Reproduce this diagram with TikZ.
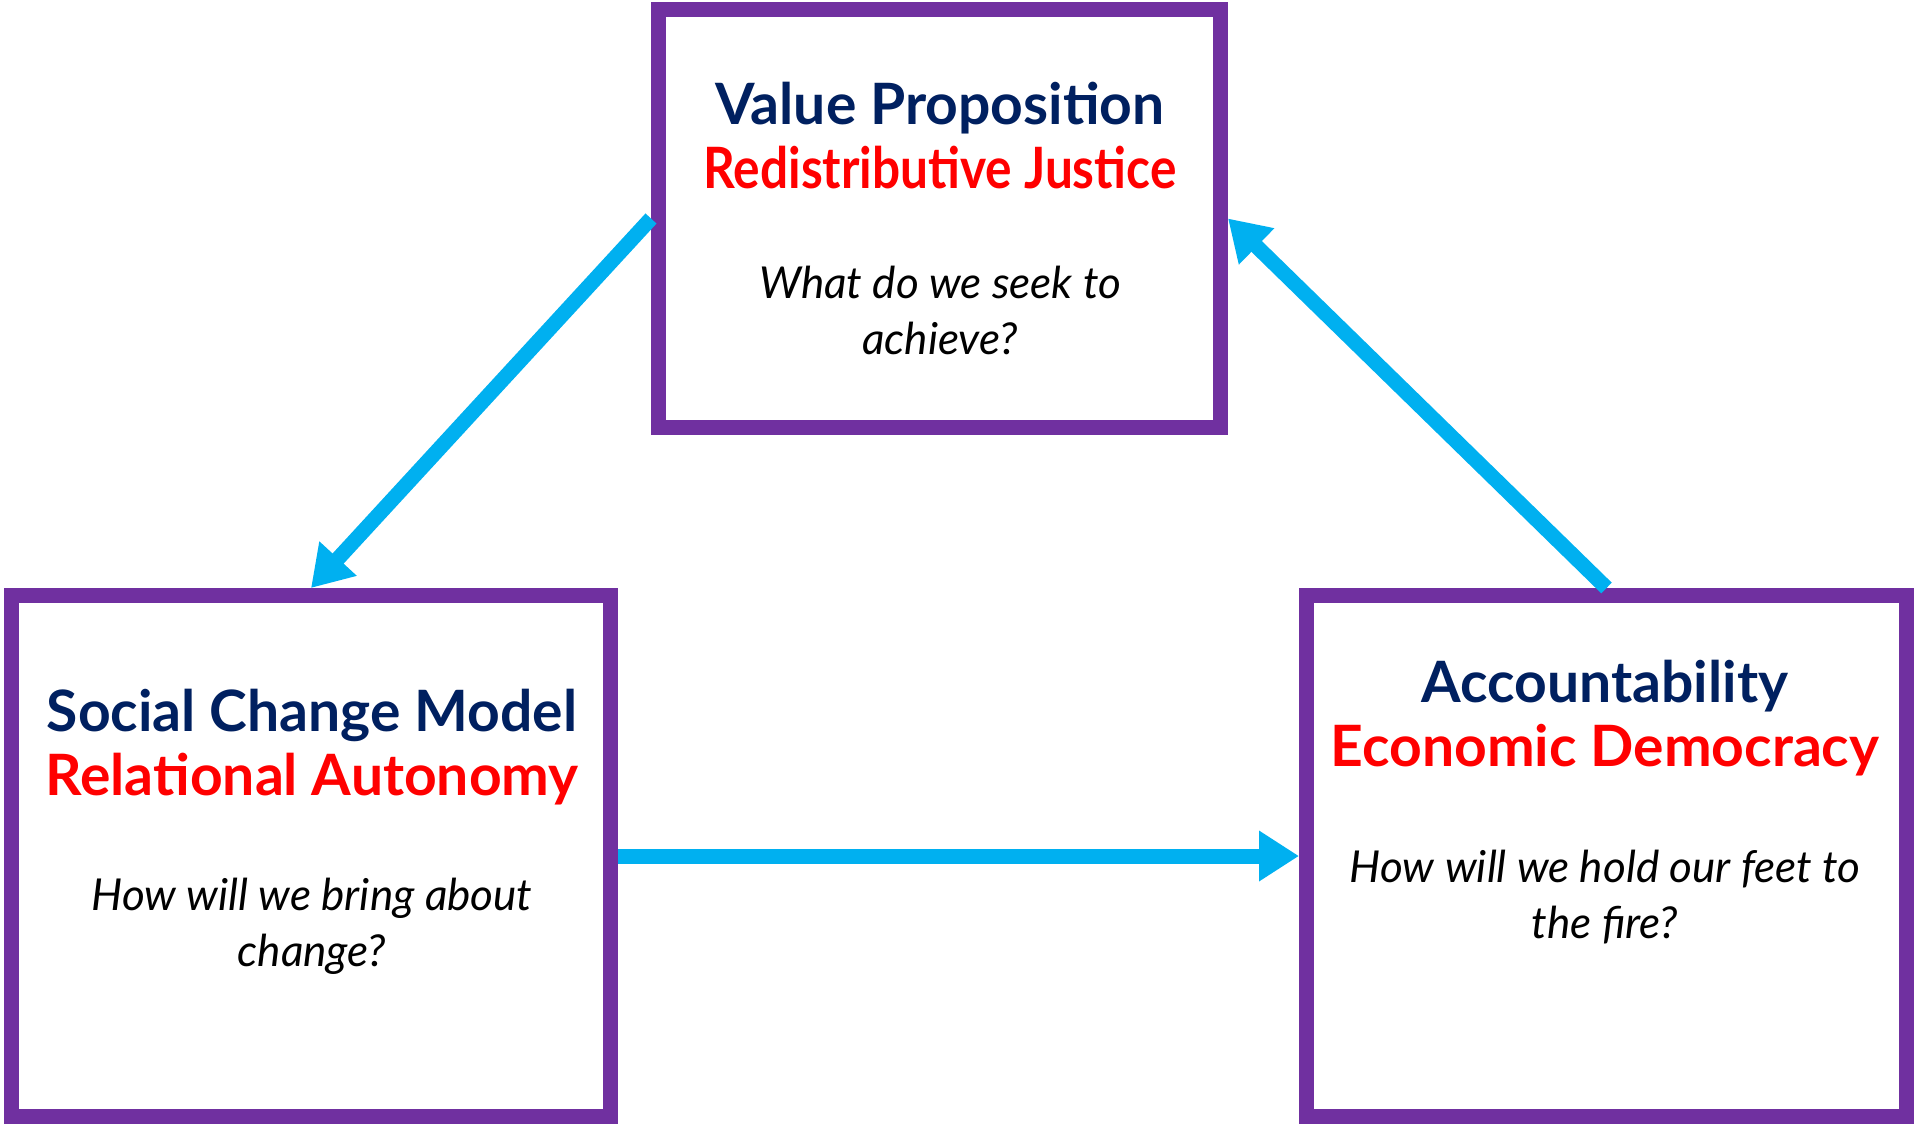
\documentclass[tikz,border=0pt]{standalone}
\usepackage{fontspec}
\setmainfont{Lato}
\usetikzlibrary{arrows.meta}
\definecolor{c7030a0}{RGB}{112,48,160}
\definecolor{c00b0f0}{RGB}{0,176,240}
\definecolor{c002060}{RGB}{0,32,96}
\definecolor{cff0000}{RGB}{255,0,0}

\begin{document}
\begin{tikzpicture}[y=0.5pt, x=0.5pt, yscale=-1, inner sep=0pt,
  box/.style={draw=c7030a0, line width=7.5pt, fill=white},
  head/.style={align=center, font=\bfseries\fontsize{28.5}{32}\selectfont},
  ask/.style={align=center, font=\itshape\fontsize{22}{28}\selectfont},
  flow/.style={draw=c00b0f0, line width=7.5pt, -{Triangle[length=20pt, width=24pt]}}]
  \useasboundingbox (0,0) rectangle (1916,1125);
  % boxes
  \node[box, minimum width=281pt, minimum height=209pt] (value) at (939.5,218.5) {};
  \node[box, minimum width=299.5pt, minimum height=260.5pt] (social) at (311,856) {};
  \node[box, minimum width=300pt, minimum height=260.5pt] (account) at (1606.5,856) {};
  % texts
  \node[head] (valueT) at (940,136)
  {\textcolor{c002060}{Value Proposition}\\\textcolor{cff0000}{\scalebox{0.87}[1]{Redistributive Justice}}};
  \node[ask] (valueQ) at (940,310) {What do we seek to\\achieve?};
  \node[head] (socialT) at (312,747)
  {\textcolor{c002060}{Social Change Model}\\\textcolor{cff0000}{Relational Autonomy}};
  \node[ask] (socialQ) at (312,926) {How will we bring about\\change?};
  \node[head] (accountT) at (1605,718)
  {\textcolor{c002060}{Accountability}\\\textcolor{cff0000}{Economic Democracy}};
  \node[ask] (accountQ) at (1605,897) {How will we hold our feet to\\the fire?};
  % arrows
  \draw[flow] (value.west) -- (social.north);
  \draw[flow] (account.north) -- (value.east);
  \draw[flow] (social.east) -- (account.west);
\end{tikzpicture}
\end{document}
